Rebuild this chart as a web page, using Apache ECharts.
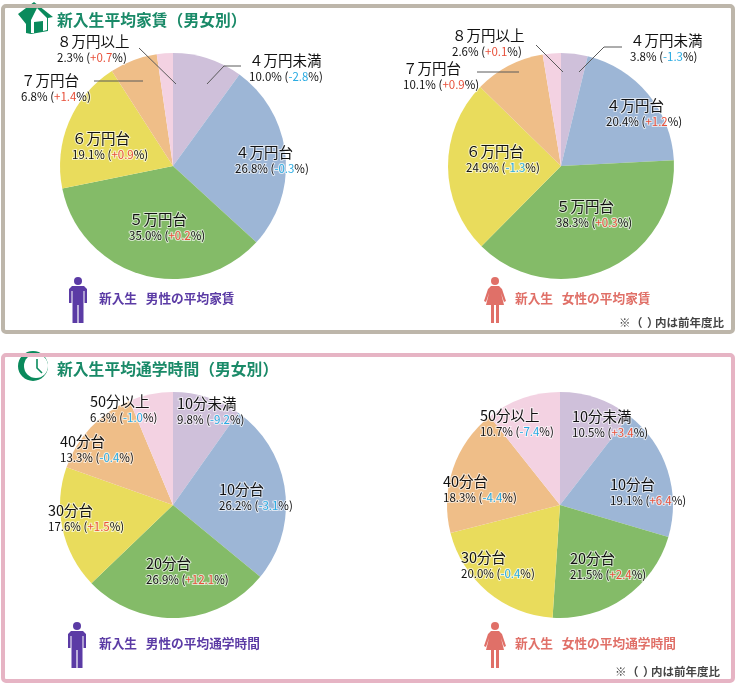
<!DOCTYPE html>
<html>
<head>
<meta charset="utf-8">
<style>
html,body{margin:0;padding:0;background:#fff;}
#chart{width:736px;height:684px;}
</style>
<script src="https://cdn.jsdelivr.net/npm/echarts@6/dist/echarts.min.js"></script>
</head>
<body>
<div id="chart"></div>
<script>
var rentNames = ['４万円未満','４万円台','５万円台','６万円台','７万円台','８万円以上'];
var timeNames = ['10分未満','10分台','20分台','30分台','40分台','50分以上'];
var sliceColors = ['#cfc0da','#9db6d6','#84bb68','#e9dc5c','#efbe88','#f3d2e2'];

var maleRent = [10.0,26.8,35.0,19.1,6.8,2.3];
var maleRentDiff = ['-2.8','-0.3','+0.2','+0.9','+1.4','+0.7'];
var femaleRent = [3.8,20.4,38.3,24.9,10.1,2.6];
var femaleRentDiff = ['-1.3','+1.2','+0.3','-1.3','+0.9','+0.1'];
var maleTime = [9.8,26.2,26.9,17.6,13.3,6.3];
var maleTimeDiff = ['-9.2','-3.1','+12.1','+1.5','-0.4','-1.0'];
var femaleTime = [10.5,19.1,21.5,20.0,18.3,10.7];
var femaleTimeDiff = ['+3.4','+6.4','+2.4','-0.4','-4.4','-7.4'];

// hand placed label spots, left edge / vertical middle
var spots = [
	[[249,68],[235,160],[129,227],[72,146],[21,88],[57,49]],
	[[630,48],[606,113],[556,214],[466,159],[403,76],[452,43]],
	[[177,411],[219,497],[146,571],[48,518],[60,449],[90,409]],
	[[572,424],[610,492],[570,566],[461,565],[443,489],[480,423]]
];

var charts = [
	{names:rentNames, values:maleRent, diff:maleRentDiff, center:[173,166]},
	{names:rentNames, values:femaleRent, diff:femaleRentDiff, center:[561,166]},
	{names:timeNames, values:maleTime, diff:maleTimeDiff, center:[173,505]},
	{names:timeNames, values:femaleTime, diff:femaleTimeDiff, center:[560,505]}
];

var FONT = '"Noto Sans CJK JP","Noto Sans",sans-serif';
var HALO = 'rgba(255,255,255,0.65)';

function labelText(c, i){
	var d = c.diff[i];
	var style = d.charAt(0) == '+' ? 'up' : 'down';
	return '{n|' + c.names[i] + '}\n{v|' + c.values[i].toFixed(1) + '% (}{' + style + '|' + d + '}{v|%)}';
}

function richStyle(size, color, lh){
	return {fontFamily:FONT,fontSize:size,color:color,lineHeight:lh,textBorderColor:HALO,textBorderWidth:2};
}

function makeSeries(c, idx){
	return {
		type:'pie',
		center:c.center,
		radius:[0,113],
		startAngle:90,
		silent:true,
		animation:false,
		avoidLabelOverlap:false,
		labelLine:{show:false},
		label:{
			show:true,
			position:'inside',
			formatter:function(p){ return labelText(c, p.dataIndex); },
			align:'left',
			rich:{
				n:richStyle(14.5,'#111',17),
				v:richStyle(11.5,'#111',15),
				up:richStyle(11.5,'#e8503a',15),
				down:richStyle(11.5,'#29abe2',15)
			}
		},
		labelLayout:function(p){
			var s = spots[idx][p.dataIndex];
			return {x:s[0],y:s[1],align:'left',verticalAlign:'middle'};
		},
		data:c.values.map(function(v,i){
			return {value:v,name:c.names[i],itemStyle:{color:sliceColors[i]}};
		})
	};
}

function txt(x, y, s, size, color, weight){
	return {type:'text',x:x,y:y,z:20,style:{text:s,fontFamily:FONT,fontSize:size,fontWeight:weight||'bold',fill:color,verticalAlign:'middle'}};
}

// the brackets get squeezed when drawn in one run, so they go on their own
function footnote(x, y){
	return [
		txt(x,y,'※',11.5,'#444'),
		txt(x+12,y,'（',11.5,'#444'),
		txt(x+28,y,'）',11.5,'#444'),
		txt(x+36,y,'内は前年度比',11.5,'#444')
	];
}

function frame(y, h, color){
	return {type:'rect',z:1,shape:{x:3,y:y,width:730,height:h,r:3},style:{fill:'none',stroke:color,lineWidth:4}};
}

function leader(pts){
	return {type:'polyline',z:15,shape:{points:pts},style:{fill:'none',stroke:'#5a5a5a',lineWidth:1}};
}

function man(x, y){
	return {type:'group',x:x,y:y,z:20,children:[
		{type:'circle',shape:{cx:0,cy:0,r:4},style:{fill:'#5b3ba5'}},
		{type:'polygon',shape:{points:[[-6,5],[6,5],[9,8],[9,22],[6.5,22],[6.5,10],[5.5,10],[5.5,42],[0.6,42],[0.6,24],[-0.6,24],[-0.6,42],[-5.5,42],[-5.5,10],[-6.5,10],[-6.5,22],[-9,22],[-9,8]]},style:{fill:'#5b3ba5'}}
	]};
}

function woman(x, y){
	return {type:'group',x:x,y:y,z:20,children:[
		{type:'circle',shape:{cx:0,cy:0,r:4},style:{fill:'#e07068'}},
		{type:'polygon',shape:{points:[[-4,5],[4,5],[7,8],[11,20],[9,21],[6,12],[9,24],[4,24],[4,42],[1,42],[1,24],[-1,24],[-1,42],[-4,42],[-4,24],[-9,24],[-6,12],[-9,21],[-11,20],[-7,8]]},style:{fill:'#e07068'}}
	]};
}

var houseIcon = {type:'group',z:20,children:[
	{type:'polygon',shape:{points:[[34,2],[53,17],[48,18],[48,31],[31,34],[26,33],[26,24],[18,14]]},style:{fill:'#0a8a5c'}},
	{type:'polygon',shape:{points:[[37,8],[47,18],[47,30],[43,31],[43,21],[34,22],[34,33],[31,33],[31,20]]},style:{fill:'#fff'}}
]};

var clockIcon = {type:'group',z:20,children:[
	{type:'circle',shape:{cx:33,cy:366,r:15},style:{fill:'#0a8a5c'}},
	{type:'circle',shape:{cx:36,cy:366,r:12},style:{fill:'#fff'}},
	{type:'polyline',shape:{points:[[37,359],[37,368],[42,373]]},style:{fill:'none',stroke:'#0a8a5c',lineWidth:1.6}}
]};

var chart = echarts.init(document.getElementById('chart'));
chart.setOption({
	backgroundColor:'#fff',
	animation:false,
	series:charts.map(makeSeries),
	graphic:{elements:[
		frame(6,326,'#bdb6aa'),
		frame(355,326,'#e6b4c4'),
		houseIcon,
		clockIcon,
		txt(57,20,'新入生平均家賃',15.8,'#1a8a68'),
		txt(167.6,20,'（男女別）',15.8,'#1a8a68'),
		txt(57,369,'新入生平均通学時間',15.8,'#1a8a68'),
		txt(199.2,369,'（男女別）',15.8,'#1a8a68'),
		man(78,281),
		woman(495,281),
		man(77,626),
		woman(495,626),
		txt(99,298,'新入生   男性の平均家賃',12.7,'#5b3ba5'),
		txt(515,298,'新入生   女性の平均家賃',12.7,'#e07068'),
		txt(99,643,'新入生   男性の平均通学時間',12.7,'#5b3ba5'),
		txt(515,643,'新入生   女性の平均通学時間',12.7,'#e07068'),
		leader([[139,48],[176,84]]),
		leader([[94,81],[143,81]]),
		leader([[241,66],[224,66],[207,84]]),
		leader([[536,45],[563,72]]),
		leader([[477,72],[519,72]]),
		leader([[622,47],[604,47],[579,72]])
	].concat(footnote(619,323), footnote(615,672))}
});
</script>
</body>
</html>
